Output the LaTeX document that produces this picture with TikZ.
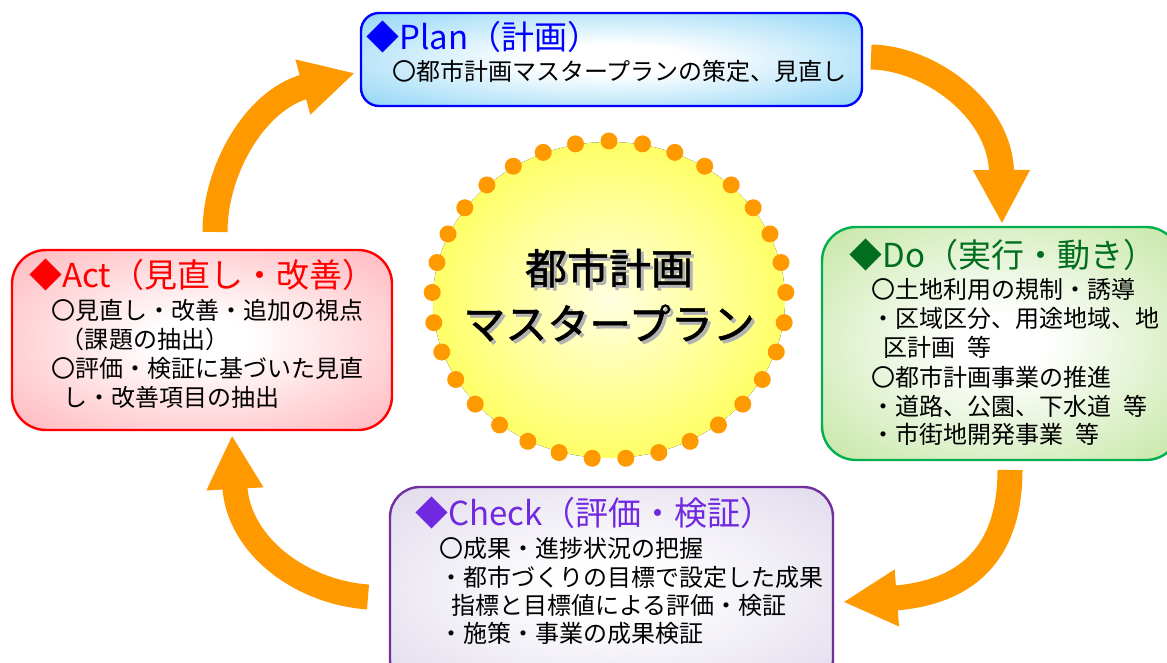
\documentclass[tikz,border=0pt]{standalone}
\usepackage{fontspec}
\setmainfont{Noto Sans CJK JP}
\newfontfamily\sunfont[FakeBold=1.2]{Noto Sans CJK JP}
\usepackage{tikz}
\usetikzlibrary{positioning}
\usetikzlibrary{arrows.meta}
\usepackage{xcolor}

\definecolor{planfill}{RGB}{135,210,245}
\definecolor{doline}{RGB}{0,176,80}
\definecolor{dofill}{RGB}{196,230,164}
\definecolor{dotext}{RGB}{0,110,30}
\definecolor{actfill}{RGB}{255,182,188}
\definecolor{checkline}{RGB}{112,48,160}
\definecolor{checkfill}{RGB}{224,218,235}
\definecolor{checktext}{RGB}{112,40,224}
\definecolor{flowcol}{RGB}{255,153,0}
\definecolor{sunedge}{RGB}{255,255,0}
\definecolor{suncore}{RGB}{255,255,225}

\pgfdeclareradialshading{planglow}{\pgfpoint{0bp}{0bp}}{color(0bp)=(white); color(8bp)=(white); color(38bp)=(planfill); color(50bp)=(planfill)}
\pgfdeclareradialshading{doglow}{\pgfpoint{0bp}{0bp}}{color(0bp)=(white); color(6bp)=(white); color(36bp)=(dofill); color(50bp)=(dofill)}
\pgfdeclareradialshading{actglow}{\pgfpoint{0bp}{0bp}}{color(0bp)=(white); color(6bp)=(white); color(36bp)=(actfill); color(50bp)=(actfill)}
\pgfdeclareradialshading{checkglow}{\pgfpoint{0bp}{0bp}}{color(0bp)=(white); color(6bp)=(white); color(36bp)=(checkfill); color(50bp)=(checkfill)}
\pgfdeclareradialshading{sunglow}{\pgfpoint{0bp}{0bp}}{color(0bp)=(suncore); color(46bp)=(sunedge); color(50bp)=(sunedge)}

\begin{document}
\begin{tikzpicture}[x=0.5pt,y=0.5pt,
  box/.style={draw, line width=1.2pt, inner sep=0pt},
  title/.style={anchor=west, inner sep=0pt, font=\fontsize{16.5}{19}\selectfont},
  body/.style={anchor=west, inner sep=0pt, font=\fontsize{12}{14}\selectfont},
  centre/.style={inner sep=0pt, font=\sunfont\fontsize{21}{25}\selectfont},
  flow/.style={draw=flowcol, line width=12.5pt, -{Triangle[width=26.5pt,length=27pt]}},
  dot/.style={fill=flowcol}]

\clip (0,0) rectangle (1167,-663);

% arrows
\coordinate (actout) at (215,-232);
\coordinate (planin) at (355,-73);
\coordinate (planout) at (871,-57);
\coordinate (doin) at (1002,-224);
\coordinate (doout) at (1010,-470);
\coordinate (checkin) at (843,-602);
\coordinate (checkout) at (368,-597);
\coordinate (actin) at (232,-435);

\draw[flow] (actout) .. controls (215,-170) and (255,-100) .. (planin);
\draw[flow] (planout) .. controls (930,-58) and (1001,-110) .. (doin);
\draw[flow] (doout) .. controls (1010,-545) and (975,-592) .. (checkin);
\draw[flow] (checkout) .. controls (300,-592) and (238,-545) .. (actin);

% centre
\fill[shading=sunglow] (609,-300) ellipse [x radius=176, y radius=158];
\foreach \k in {0,...,32}
  \fill[dot] (609,-300) ++({90+\k*360/33}:177 and 159) circle [radius=8.5];

\node[centre, text=gray!60] (sunshade1) at (612,-271) {都市計画};
\node[centre, text=gray!60] (sunshade2) at (612,-326) {マスタープラン};
\node[centre] (suntop) at (609,-268) {都市計画};
\node[centre] (sunbot) at (609,-323) {マスタープラン};

% Plan
\node[box, draw=blue, shading=planglow, rounded corners=9pt,
  minimum width=250.5pt, minimum height=46.5pt] (plan) at (611.5,-59.5) {};
\node[title, text=blue] (plantitle) at (366,-37) {◆Plan（計画）};
\node[body] (plan1) at (392,-71) {〇都市計画マスタープランの策定、見直し};

% Do
\node[box, draw=doline, shading=doglow, rounded corners=17pt,
  minimum width=179pt, minimum height=116.5pt] (do) at (1001,-343.5) {};
\node[title, text=dotext] (dotitle) at (849,-255) {◆Do（実行・動き）};
\node[body] (do1) at (871,-289) {〇土地利用の規制・誘導};
\node[body] (do2) at (871,-318) {・区域区分、用途地域、地};
\node[body] (do3) at (871,-347) {\hspace*{.5em}区計画\hspace{.5em}等};
\node[body] (do4) at (871,-377) {〇都市計画事業の推進};
\node[body] (do5) at (871,-406) {・道路、公園、下水道\hspace{.5em}等};
\node[body] (do6) at (871,-434) {・市街地開発事業\hspace{.5em}等};

% Act
\node[box, draw=red, shading=actglow, rounded corners=17pt,
  minimum width=190pt, minimum height=90pt] (act) at (202,-340) {};
\node[title, text=red] (acttitle) at (29,-275) {◆Act（見直し・改善）};
\node[body] (act1) at (51,-310) {〇見直し・改善・追加の視点};
\node[body] (act2) at (51,-339) {\hspace*{.4em}（課題の抽出）};
\node[body] (act3) at (51,-368) {〇評価・検証に基づいた見直};
\node[body] (act4) at (51,-397) {\hspace*{.5em}し・改善項目の抽出};

% Check
\node[box, draw=checkline, shading=checkglow, rounded corners=15pt,
  minimum width=221.5pt, minimum height=101.5pt] (check) at (611.5,-588.5) {};
\node[title, text=checktext] (checktitle) at (415,-513) {◆Check（評価・検証）};
\node[body] (check1) at (439,-548) {〇成果・進捗状況の把握};
\node[body] (check2) at (439,-577) {・都市づくりの目標で設定した成果};
\node[body] (check3) at (439,-605) {\hspace*{.5em}指標と目標値による評価・検証};
\node[body] (check4) at (439,-633) {・施策・事業の成果検証};

\end{tikzpicture}
\end{document}
